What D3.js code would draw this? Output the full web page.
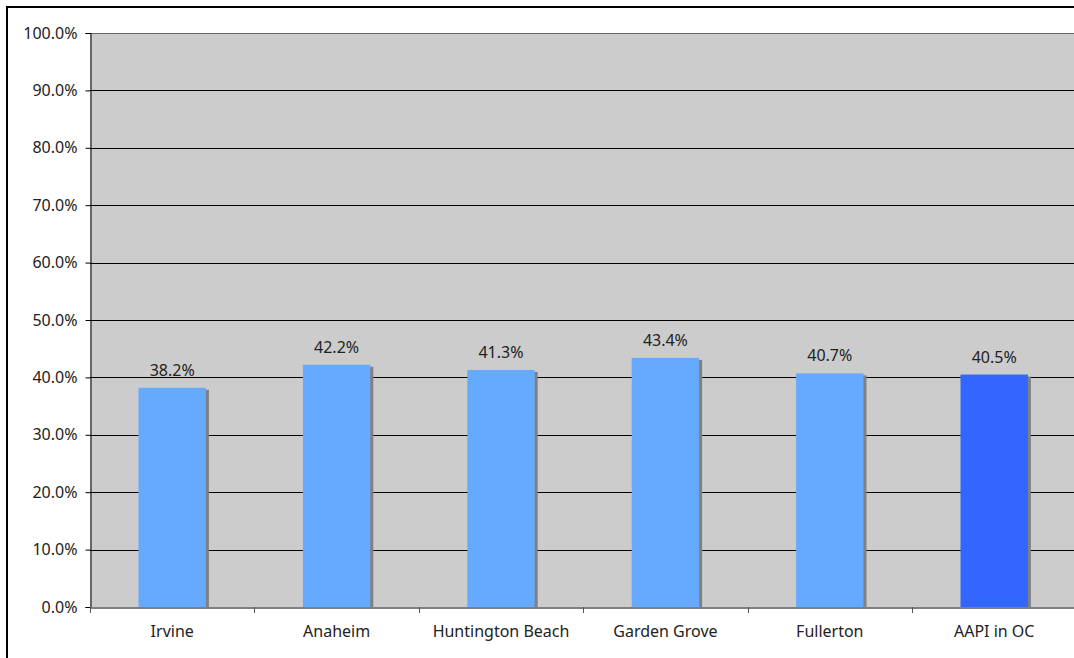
<!DOCTYPE html>
<html>
<head>
<meta charset="utf-8">
<script src="https://cdn.jsdelivr.net/npm/d3@7"></script>
<style>
  html, body { margin: 0; padding: 0; background: #fff; overflow: hidden; }
  svg { display: block; }
  text { font-family: "Noto Sans", "Open Sans", sans-serif; fill: #222; }
</style>
</head>
<body>
<svg id="chart" width="1074" height="658"></svg>
<script>
// Share of each city (and AAPI in OC overall)
const categories = ["Irvine", "Anaheim", "Huntington Beach", "Garden Grove", "Fullerton", "AAPI in OC"];
const values = [38.2, 42.2, 41.3, 43.4, 40.7, 40.5];
const yTicks = [0, 10, 20, 30, 40, 50, 60, 70, 80, 90, 100];
const highlight = "AAPI in OC";

const FONT = "'Noto Sans', 'Open Sans', sans-serif";
const svg = d3.select("#chart");
const plotLeft = 90, plotTop = 33, plotBottom = 607, plotRight = 1076.4;

const x = d3.scaleBand().domain(categories).range([plotLeft, plotRight]).paddingInner(0).paddingOuter(0);
const y = d3.scaleLinear().domain([0, 100]).range([plotBottom, plotTop]);

// outer frame (top and left edges fall inside the page)
svg.append("path").attr("d", "M7,700 L7,7 L1100,7")
  .attr("fill", "none").attr("stroke", "#000").attr("stroke-width", 2);

// plot background
svg.append("rect").attr("x", plotLeft).attr("y", plotTop).attr("width", plotRight - plotLeft).attr("height", plotBottom - plotTop)
  .attr("fill", "#cccccc");

// gridlines
svg.append("g").selectAll("line").data(yTicks.filter(d => d > 0)).join("line")
  .attr("x1", plotLeft).attr("x2", plotRight)
  .attr("y1", d => Math.round(y(d)) + 0.5).attr("y2", d => Math.round(y(d)) + 0.5)
  .attr("stroke", d => d === 100 ? "#666" : "#000").attr("stroke-width", 1);

// bars with drop shadow
const bw = x.bandwidth() * 0.41;
const bars = svg.append("g").selectAll("g").data(categories).join("g");
bars.append("rect")
  .attr("x", d => x(d) + x.bandwidth() / 2 - bw / 2 + 3)
  .attr("y", (d, i) => y(values[i]) + 2)
  .attr("width", bw)
  .attr("height", (d, i) => plotBottom - y(values[i]) - 2)
  .attr("fill", "#808080");
bars.append("rect")
  .attr("x", d => x(d) + x.bandwidth() / 2 - bw / 2)
  .attr("y", (d, i) => y(values[i]))
  .attr("width", bw)
  .attr("height", (d, i) => plotBottom - y(values[i]))
  .attr("fill", d => d === highlight ? "#3366ff" : "#66aaff");

// value labels
svg.append("g").selectAll("text").data(categories).join("text")
  .attr("x", d => x(d) + x.bandwidth() / 2)
  .attr("y", (d, i) => y(values[i]) - 12)
  .attr("text-anchor", "middle")
  .attr("font-size", 16)
  .text((d, i) => values[i].toFixed(1) + "%");

// y axis
const yAxis = svg.append("g").attr("transform", `translate(${plotLeft + 0.5},0)`)
  .call(d3.axisLeft(y).tickValues(yTicks).tickSize(5).tickPadding(8).tickFormat(d => d.toFixed(1) + "%"));
yAxis.select(".domain").attr("stroke", "#000");
yAxis.selectAll(".tick line").attr("stroke", "#000");
yAxis.selectAll("text").attr("font-size", 16).attr("fill", "#222").attr("font-family", FONT);

// x axis
const xAxis = svg.append("g").attr("transform", `translate(0,${plotBottom + 0.5})`)
  .call(d3.axisBottom(x).tickSize(0).tickPadding(18));
xAxis.select(".domain").attr("stroke", "#555").attr("stroke-width", 1.5);
xAxis.selectAll("text").attr("font-size", 16).attr("fill", "#222").attr("font-family", FONT);
// category separator ticks
svg.append("g").selectAll("line").data(categories).join("line")
  .attr("x1", d => Math.round(x(d)) + 0.5).attr("x2", d => Math.round(x(d)) + 0.5)
  .attr("y1", plotBottom).attr("y2", plotBottom + 6)
  .attr("stroke", "#555");
</script>
</body>
</html>
